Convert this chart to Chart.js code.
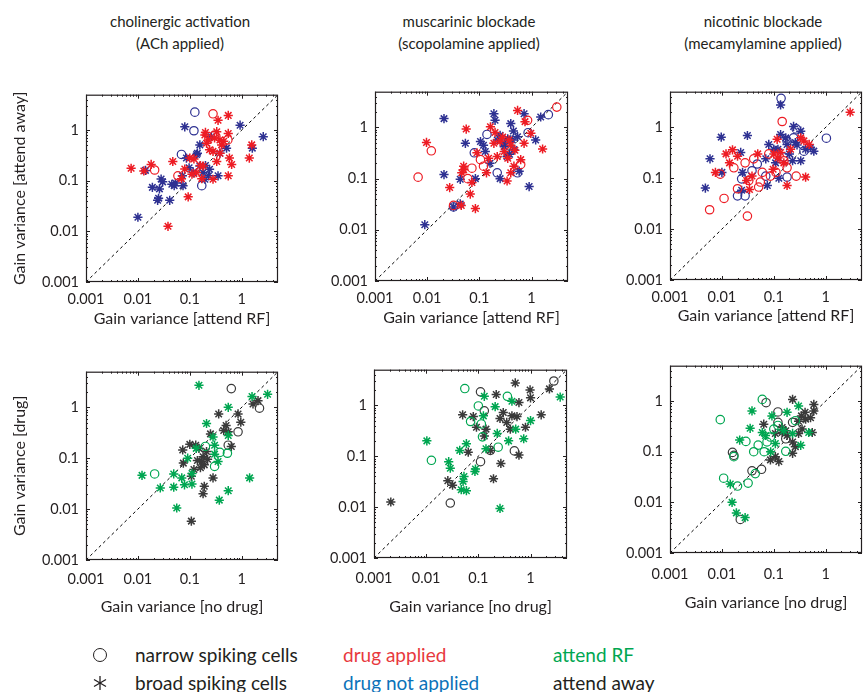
<!DOCTYPE html>
<html>
<head>
<meta charset="utf-8">
<script src="https://cdn.jsdelivr.net/npm/chart.js@4.4.1/dist/chart.umd.min.js"></script>
<style>
  body { margin: 0; background: #fff; overflow: hidden; }
  #fig { position: relative; width: 865px; height: 692px; overflow: hidden; font-family: Lato, sans-serif; color: #231f20; }
  #fig canvas { position: absolute; }
  .title { position: absolute; width: 240px; text-align: center; font-size: 15px; line-height: 22px; top: 10px; }
  .leg { position: absolute; font-size: 19px; line-height: 22px; white-space: nowrap; }
</style>
</head>
<body>
<div id="fig">
  <div class="title" style="left:60px">cholinergic activation<br>(ACh applied)</div>
  <div class="title" style="left:349px">muscarinic blockade<br>(scopolamine applied)</div>
  <div class="title" style="left:643px">nicotinic blockade<br>(mecamylamine applied)</div>

  <canvas id="p1"></canvas>
  <canvas id="p2"></canvas>
  <canvas id="p3"></canvas>
  <canvas id="p4"></canvas>
  <canvas id="p5"></canvas>
  <canvas id="p6"></canvas>

  <div style="position:absolute;left:93px;top:648px;width:12px;height:12px;border:1.3px solid #231f20;border-radius:50%"></div>
  <svg style="position:absolute;left:93px;top:676px" width="14" height="14">
    <g stroke="#231f20" stroke-width="1.3">
      <line x1="7" y1="0" x2="7" y2="14"/>
      <line x1="1" y1="3.5" x2="13" y2="10.5"/>
      <line x1="1" y1="10.5" x2="13" y2="3.5"/>
    </g>
  </svg>
  <div class="leg" style="left:135px;top:644px">narrow spiking cells</div>
  <div class="leg" style="left:135px;top:672px">broad spiking cells</div>
  <div class="leg" style="left:343px;top:644px;color:#e8383d">drug applied</div>
  <div class="leg" style="left:343px;top:672px;color:#0b72b9">drug not applied</div>
  <div class="leg" style="left:553px;top:644px;color:#00a651">attend RF</div>
  <div class="leg" style="left:553px;top:672px;color:#231f20">attend away</div>
</div>

<script>
// ---- data: [x, y] pairs of gain variance ----
const tickValues = [0.001, 0.01, 0.1, 1];

// cholinergic activation, attend RF (x) vs attend away (y)
const achDrugBroad = [[0.0074,0.176],[0.013,0.156],[0.018,0.21],[0.047,0.24],[0.069,0.11],[0.038,0.0126],[0.093,0.048],[0.1,0.28],[0.135,0.145],[0.17,0.11],[0.195,0.8],[0.21,0.55],[0.28,0.38],[0.33,0.93],[0.35,1.56],[0.38,0.64],[0.41,0.51],[0.55,1.95],[0.55,0.86],[0.58,0.28],[0.55,0.125],[0.64,0.21],[0.33,0.24],[0.24,0.41],[1.56,0.51],[1.4,0.28],[0.28,0.107],[0.11,0.135],[0.08,0.17],[0.18,0.195],[0.23,0.64],[0.38,0.35],[0.45,0.6],[0.3,0.7],[0.2,0.9],[0.16,0.2],[0.12,0.27]];
const achDrugNarrow = [[0.021,0.163],[0.059,0.125],[0.28,2.1],[0.54,0.64],[0.3,0.8]];
const achNoDrugBroad = [[0.01,0.019],[0.014,0.16],[0.019,0.074],[0.024,0.041],[0.028,0.108],[0.026,0.069],[0.041,0.041],[0.045,0.085],[0.05,0.08],[0.053,0.09],[0.074,0.08],[0.08,1.16],[0.086,0.28],[0.097,0.18],[0.116,0.145],[0.135,0.33],[0.156,0.51],[0.156,0.195],[0.18,0.145],[0.195,0.107],[0.23,0.125],[0.26,0.74],[0.24,0.168],[0.35,0.125],[0.38,0.35],[0.51,0.44],[0.93,1.25],[1.6,0.44],[2.6,0.74],[0.072,0.125],[0.03,0.095],[0.025,0.045],[0.14,0.35],[0.2,0.2]];
const achNoDrugNarrow = [[0.125,2.26],[0.12,0.97],[0.069,0.33],[0.17,0.08]];

// muscarinic blockade, attend RF (x) vs attend away (y)
const scoDrugBroad = [[0.0097,0.51],[0.027,0.067],[0.056,0.93],[0.05,0.175],[0.046,0.13],[0.067,0.05],[0.084,0.026],[0.09,0.32],[0.072,0.084],[0.137,0.13],[0.163,1.03],[0.19,0.49],[0.22,0.27],[0.3,0.34],[0.34,0.09],[0.37,0.57],[0.4,0.13],[0.46,0.175],[0.48,0.36],[0.54,2.15],[0.62,0.235],[0.97,0.77],[1.63,0.38],[0.72,0.49],[0.25,0.53],[0.15,0.25],[0.045,0.03],[0.05,0.15],[0.28,0.65],[0.4,0.45],[0.75,1.3],[0.2,0.8],[0.35,0.25]];
const scoDrugNarrow = [[0.0067,0.107],[0.012,0.35],[0.032,0.03],[0.072,0.16],[0.105,0.235],[0.12,0.175],[0.84,1.38],[0.62,0.19],[3.05,2.5],[0.06,0.1]];
const scoNoDrugBroad = [[0.009,0.0126],[0.021,1.49],[0.021,0.12],[0.032,0.028],[0.043,0.032],[0.043,0.097],[0.054,0.49],[0.084,0.1],[0.105,0.53],[0.13,0.34],[0.19,1.86],[0.2,1.38],[0.22,0.57],[0.25,0.1],[0.3,0.42],[0.34,0.27],[0.4,1.19],[0.43,0.57],[0.46,0.37],[0.54,0.66],[0.58,0.14],[0.72,1.86],[0.9,0.07],[1.2,0.57],[1.5,1.6],[0.16,0.2],[0.35,0.6],[0.38,0.3],[0.3,0.5],[0.45,0.85],[0.12,0.45],[0.25,0.7]];
const scoNoDrugNarrow = [[0.14,0.73],[0.08,0.32],[0.22,0.13],[0.54,0.13],[2.1,1.78],[0.86,0.79],[0.032,0.028]];

// nicotinic blockade, attend RF (x) vs attend away (y)
const mecDrugBroad = [[0.0075,0.13],[0.012,0.3],[0.014,0.2],[0.016,0.36],[0.02,0.27],[0.03,0.09],[0.034,0.06],[0.038,0.11],[0.049,0.3],[0.097,0.15],[0.116,0.58],[0.135,0.32],[0.156,0.2],[0.18,0.072],[0.21,0.37],[0.33,0.62],[0.38,0.54],[0.41,0.105],[0.48,0.46],[2.96,1.98],[0.1,0.3],[0.12,0.25]];
const mecDrugNarrow = [[0.0058,0.024],[0.011,0.04],[0.0093,0.12],[0.017,0.16],[0.02,0.062],[0.028,0.2],[0.031,0.018],[0.041,0.24],[0.051,0.067],[0.055,0.084],[0.06,0.13],[0.086,0.11],[0.08,0.3],[0.145,1.3],[0.18,0.16],[0.156,0.22],[0.27,0.11],[0.11,0.13],[0.033,0.09]];
const mecNoDrugBroad = [[0.0048,0.064],[0.0059,0.24],[0.0097,0.64],[0.01,0.13],[0.023,0.32],[0.031,0.69],[0.024,0.058],[0.025,0.13],[0.075,0.072],[0.07,0.24],[0.08,0.46],[0.1,0.37],[0.108,0.2],[0.125,0.1],[0.135,2.75],[0.135,0.72],[0.17,0.62],[0.18,0.46],[0.23,0.22],[0.24,1.04],[0.26,0.5],[0.33,0.84],[0.33,0.22],[0.41,0.37],[0.51,0.4],[0.59,0.34],[0.12,0.37],[0.2,0.3],[0.28,0.45]];
const mecNoDrugNarrow = [[0.138,3.7],[0.024,0.097],[0.02,0.045],[0.028,0.045],[0.038,0.14],[0.048,0.19],[0.07,0.11],[0.18,0.54],[0.18,0.105],[0.24,0.62],[0.27,0.93],[0.38,0.34],[1.03,0.61],[0.156,0.26]];

// no drug (x) vs drug (y), split by attention
const achRFBroad = [[0.012,0.046],[0.027,0.026],[0.049,0.049],[0.049,0.027],[0.056,0.0105],[0.07,0.041],[0.079,0.03],[0.11,0.031],[0.11,0.05],[0.15,2.7],[0.21,0.48],[0.3,0.18],[0.28,0.26],[0.37,0.015],[0.35,0.086],[0.55,1.0],[0.55,0.023],[0.55,0.28],[1.42,0.041],[1.58,1.63],[3.15,1.8],[0.133,0.156],[0.091,0.1],[0.3,0.12]];
const achRFNarrow = [[0.021,0.049],[0.2,0.17],[0.3,0.069],[0.53,0.125],[0.38,0.13]];
const achAwayBroad = [[0.107,0.0058],[0.18,0.02],[0.19,0.028],[0.073,0.145],[0.075,0.08],[0.107,0.044],[0.1,0.187],[0.13,0.18],[0.15,0.156],[0.17,0.086],[0.18,0.107],[0.19,0.074],[0.21,0.135],[0.28,0.041],[0.36,0.74],[0.5,0.44],[0.55,0.33],[0.63,0.17],[0.85,0.74],[0.96,0.51],[1.65,1.16],[2.06,1.35],[0.14,0.09],[0.22,0.095],[0.16,0.065],[0.12,0.06],[0.25,0.3],[0.45,0.35]];
const achAwayNarrow = [[0.63,2.33],[2.2,0.96],[0.85,0.33],[0.55,0.18]];

const scoRFBroad = [[0.0103,0.2],[0.027,0.078],[0.029,0.058],[0.044,0.13],[0.053,0.04],[0.051,0.032],[0.047,0.022],[0.059,0.021],[0.086,0.05],[0.088,0.056],[0.26,0.0094],[0.13,1.5],[0.21,0.94],[1.0,0.5],[3.7,1.45],[0.74,0.22],[0.52,0.34],[0.14,0.14],[0.38,0.2],[0.23,0.28],[0.44,1.2],[0.125,0.62],[0.059,0.176]];
const scoRFNarrow = [[0.0126,0.083],[0.055,2.13],[0.1,0.97],[0.071,0.48],[0.36,1.5],[0.24,0.15],[0.12,0.24],[0.114,0.43]];
const scoAwayBroad = [[0.0021,0.0126],[0.026,0.033],[0.032,0.027],[0.05,0.65],[0.064,0.12],[0.195,0.036],[0.27,0.072],[0.22,1.63],[0.51,2.75],[0.98,2.0],[1.0,1.4],[2.3,2.1],[1.6,0.65],[0.6,0.105],[0.8,0.37],[0.3,0.72],[0.35,0.46],[0.41,0.34],[0.44,0.62],[0.6,1.13],[0.14,0.34],[0.13,0.25],[0.17,0.13],[0.08,0.6],[0.092,0.37],[0.55,0.6],[0.26,0.55]];
const scoAwayNarrow = [[0.029,0.012],[0.11,1.84],[0.13,0.78],[0.11,0.078],[0.49,0.127],[0.17,0.13],[2.8,3.0]];

const mecRFBroad = [[0.0145,0.023],[0.0157,0.01],[0.019,0.0062],[0.028,0.005],[0.022,0.17],[0.035,0.29],[0.038,0.64],[0.092,0.51],[0.18,0.6],[0.3,0.8],[0.33,0.134],[0.06,0.24],[0.069,0.21],[0.107,0.145],[0.155,0.26],[0.23,0.23],[0.47,0.24],[0.087,0.1]];
const mecRFNarrow = [[0.0093,0.43],[0.0108,0.03],[0.017,0.08],[0.02,0.021],[0.029,0.16],[0.032,0.024],[0.041,0.1],[0.05,0.135],[0.044,0.037],[0.06,1.08],[0.065,0.1],[0.074,0.156],[0.086,0.195],[0.12,0.33],[0.17,0.102],[0.26,0.41],[0.1,0.28]];
const mecAwayBroad = [[0.23,1.08],[0.59,0.86],[0.59,0.64],[0.34,0.51],[0.41,0.44],[0.51,0.47],[0.125,0.064],[0.086,0.069],[0.107,0.08],[0.064,0.35],[0.145,0.3],[0.17,0.26],[0.18,0.21],[0.23,0.155],[0.26,0.125],[0.3,0.23],[0.35,0.28],[0.55,0.24],[0.23,0.093],[0.107,0.23],[0.145,0.24],[0.4,0.6],[0.3,0.4]];
const mecAwayNarrow = [[0.016,0.097],[0.017,0.085],[0.038,0.042],[0.058,0.045],[0.071,0.93],[0.0226,0.0046],[0.12,0.61],[0.23,0.38],[0.17,0.18],[0.12,0.38]];

// ---- colours ----
const RED = '#ed1c24', NAVY = '#2e3192', GREEN = '#00a651', GREY = '#3a3a3a', INK = '#231f20';
const AX_MIN = 0.001, AX_MAX = 5;

// box with inward major / minor ticks on all four sides (MATLAB style)
const framePlugin = {
  id: 'frame',
  afterDatasetsDraw(chart) {
    const { ctx, chartArea: a, scales: { x, y } } = chart;
    ctx.save();
    ctx.strokeStyle = INK;
    ctx.lineWidth = 1.2;
    ctx.strokeRect(a.left + 0.5, a.top + 0.5, a.width - 1, a.height - 1);
    ctx.lineWidth = 1;
    ctx.beginPath();
    for (let d = -3; d <= 0; d++) {
      for (let m = 1; m <= 9; m++) {
        const v = m * Math.pow(10, d);
        if (v >= AX_MAX) break;
        const len = m === 1 ? 4 : 2;
        const px = Math.round(x.getPixelForValue(v)) + 0.5;
        const py = Math.round(y.getPixelForValue(v)) + 0.5;
        ctx.moveTo(px, a.bottom); ctx.lineTo(px, a.bottom - len);
        ctx.moveTo(px, a.top); ctx.lineTo(px, a.top + len);
        ctx.moveTo(a.left, py); ctx.lineTo(a.left + len, py);
        ctx.moveTo(a.right, py); ctx.lineTo(a.right - len, py);
      }
    }
    ctx.stroke();
    ctx.restore();
  }
};

function series(pts, color, narrow) {
  return {
    data: pts.map(([x, y]) => ({ x, y })),
    showLine: false,
    pointStyle: narrow ? 'circle' : 'star',
    pointRadius: narrow ? 4.2 : 4.6,
    pointBorderColor: color,
    pointBackgroundColor: 'rgba(0,0,0,0)',
    pointBorderWidth: narrow ? 1.2 : 1.5,
  };
}

function makePanel(id, frame, sets, xTitle, yTitle, tickGap, titleGap) {
  const [x0, y0, x1, y1] = frame;
  const padTop = 12, padRight = 12, yW = 86;
  const xH = titleGap + 11;
  const cv = document.getElementById(id);
  cv.width = (x1 - x0) + yW + padRight;
  cv.height = (y1 - y0) + padTop + xH;
  cv.style.left = (x0 - yW) + 'px';
  cv.style.top = (y0 - padTop) + 'px';

  const tickFont = { family: 'Lato', size: 14.5 };
  const titleFont = { family: 'Lato', size: 16 };
  const datasets = sets.map(s => series(s[0], s[1], s[2]));
  datasets.push({
    data: [{ x: AX_MIN, y: AX_MIN }, { x: AX_MAX, y: AX_MAX }],
    showLine: true,
    borderColor: '#000',
    borderWidth: 1,
    borderDash: [3, 3],
    pointRadius: 0,
  });

  new Chart(cv, {
    type: 'scatter',
    data: { datasets },
    plugins: [framePlugin],
    options: {
      responsive: false,
      animation: false,
      devicePixelRatio: 1,
      layout: { padding: { top: padTop, right: padRight, left: 0, bottom: 0 } },
      plugins: { legend: { display: false }, tooltip: { enabled: false } },
      scales: {
        x: {
          type: 'logarithmic', min: AX_MIN, max: AX_MAX,
          afterBuildTicks: s => { s.ticks = tickValues.map(v => ({ value: v })); },
          afterFit: s => { s.height = xH; },
          grid: { display: false, drawTicks: false },
          border: { display: false },
          ticks: { color: INK, font: tickFont, padding: tickGap - 8.7, maxRotation: 0, autoSkip: false, callback: v => String(v) },
          title: { display: true, text: xTitle, color: INK, font: titleFont, padding: { top: 0, bottom: 1.4 } },
        },
        y: {
          type: 'logarithmic', min: AX_MIN, max: AX_MAX,
          afterBuildTicks: s => { s.ticks = tickValues.map(v => ({ value: v })); },
          afterFit: s => { s.width = yW; },
          grid: { display: false, drawTicks: false },
          border: { display: false },
          ticks: { color: INK, font: tickFont, padding: 7, autoSkip: false, callback: v => String(v) },
          title: { display: !!yTitle, text: yTitle || '', color: INK, font: titleFont, padding: { top: 10.4, bottom: 0 } },
        },
      },
    },
  });
}

const xTop = 'Gain variance [attend RF]';
const xBottom = 'Gain variance [no drug]';

makePanel('p1', [86, 91, 278, 282], [
  [achDrugBroad, RED, false], [achDrugNarrow, RED, true],
  [achNoDrugBroad, NAVY, false], [achNoDrugNarrow, NAVY, true],
], xTop, 'Gain variance [attend away]', 17, 37);

makePanel('p2', [375, 88, 568, 281], [
  [scoDrugBroad, RED, false], [scoDrugNarrow, RED, true],
  [scoNoDrugBroad, NAVY, false], [scoNoDrugNarrow, NAVY, true],
], xTop, null, 17, 37);

makePanel('p3', [670, 88, 862, 280], [
  [mecDrugBroad, RED, false], [mecDrugNarrow, RED, true],
  [mecNoDrugBroad, NAVY, false], [mecNoDrugNarrow, NAVY, true],
], xTop, null, 17, 36);

makePanel('p4', [86, 368, 278, 560], [
  [achRFBroad, GREEN, false], [achRFNarrow, GREEN, true],
  [achAwayBroad, GREY, false], [achAwayNarrow, GREY, true],
], xBottom, 'Gain variance [drug]', 19, 47);

makePanel('p5', [374, 366, 567, 558], [
  [scoRFBroad, GREEN, false], [scoRFNarrow, GREEN, true],
  [scoAwayBroad, GREY, false], [scoAwayNarrow, GREY, true],
], xBottom, null, 20, 49);

makePanel('p6', [670, 362, 862, 553], [
  [mecRFBroad, GREEN, false], [mecRFNarrow, GREEN, true],
  [mecAwayBroad, GREY, false], [mecAwayNarrow, GREY, true],
], xBottom, null, 21, 50);
</script>
</body>
</html>
